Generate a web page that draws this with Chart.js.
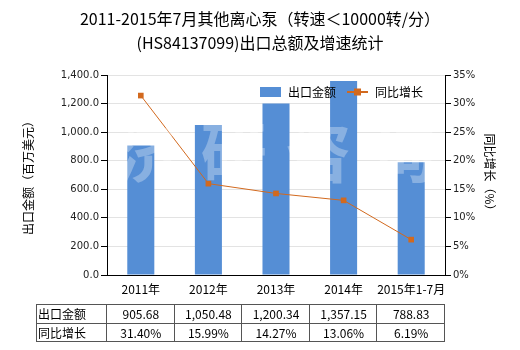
<!DOCTYPE html>
<html>
<head>
<meta charset="utf-8">
<script src="https://cdn.jsdelivr.net/npm/chart.js@4"></script>
<style>
  html, body { margin: 0; padding: 0; background: #fff; }
  #wrap { width: 520px; height: 350px; }
</style>
</head>
<body>
<div id="wrap"><canvas id="exportChart" width="520" height="350"></canvas></div>
<script>
// 出口金额及同比增长
const years = ['2011年', '2012年', '2013年', '2014年', '2015年1-7月'];
const exportValue = [905.68, 1050.48, 1200.34, 1357.15, 788.83];
const growthRate = [31.40, 15.99, 14.27, 13.06, 6.19];
const rowNames = ['出口金额', '同比增长'];
const watermark = ['济', '研', '咨', '询'];

const BAR_COLOR = '#558ed5';
const LINE_COLOR = '#d2691e';
const CJK = "'Noto Sans CJK SC', 'Noto Sans', sans-serif";
const NUM = "'DejaVu Sans', sans-serif";

function fmtValue(v) {
  return v.toLocaleString('en-US', { minimumFractionDigits: 2, maximumFractionDigits: 2 });
}

// 图例（画在绘图区内）
const legendPlugin = {
  id: 'innerLegend',
  afterDraw(chart) {
    const ctx = chart.ctx;
    ctx.save();
    ctx.fillStyle = BAR_COLOR;
    ctx.fillRect(260, 87, 21, 10);
    ctx.strokeStyle = LINE_COLOR;
    ctx.lineWidth = 2;
    ctx.beginPath();
    ctx.moveTo(347, 92);
    ctx.lineTo(368, 92);
    ctx.stroke();
    ctx.fillStyle = LINE_COLOR;
    ctx.fillRect(354, 88.5, 7, 7);
    ctx.fillStyle = '#000';
    ctx.font = '12px ' + CJK;
    ctx.textBaseline = 'middle';
    ctx.textAlign = 'left';
    ctx.fillText('出口金额', 288, 92);
    ctx.fillText('同比增长', 375, 92);
    ctx.restore();
  }
};

// 水印
const watermarkPlugin = {
  id: 'watermark',
  afterDatasetsDraw(chart) {
    const ctx = chart.ctx;
    const area = chart.chartArea;
    ctx.save();
    ctx.fillStyle = 'rgba(255,255,255,0.3)';
    ctx.font = 'bold 66px ' + CJK;
    ctx.textAlign = 'center';
    ctx.textBaseline = 'middle';
    const step = (area.right - area.left) / watermark.length;
    watermark.forEach((ch, i) => {
      ctx.fillText(ch, area.left + step * (i + 0.5), 152);
    });
    ctx.restore();
  }
};

// 数据表
const tablePlugin = {
  id: 'dataTable',
  afterDraw(chart) {
    const ctx = chart.ctx;
    const x = chart.scales.x;
    const colW = (x.right - x.left) / years.length;
    const tableLeft = 36;
    const rowTop = [304, 323];
    const rowH = 18;
    const bottom = rowTop[1] + rowH;
    const rows = [exportValue.map(fmtValue), growthRate.map(v => v.toFixed(2) + '%')];

    ctx.save();
    ctx.strokeStyle = '#555';
    ctx.lineWidth = 1;
    ctx.beginPath();
    [rowTop[0], rowTop[1], bottom].forEach(y => {
      ctx.moveTo(tableLeft, y + 0.5);
      ctx.lineTo(x.right, y + 0.5);
    });
    ctx.moveTo(tableLeft + 0.5, rowTop[0]);
    ctx.lineTo(tableLeft + 0.5, bottom);
    for (let i = 0; i <= years.length; i++) {
      const px = Math.round(x.left + colW * i) - 0.5;
      ctx.moveTo(px, rowTop[0]);
      ctx.lineTo(px, bottom);
    }
    ctx.stroke();

    ctx.fillStyle = '#000';
    ctx.font = '12px ' + CJK;
    ctx.textBaseline = 'middle';
    rows.forEach((cells, r) => {
      const cy = rowTop[r] + rowH / 2 + 1;
      ctx.textAlign = 'left';
      ctx.fillText(rowNames[r], tableLeft + 2, cy);
      ctx.textAlign = 'center';
      cells.forEach((txt, i) => {
        ctx.fillText(txt, x.getPixelForValue(i), cy);
      });
    });
    ctx.restore();
  }
};

const chart = new Chart(document.getElementById('exportChart'), {
  type: 'bar',
  data: {
    labels: years,
    datasets: [
      {
        type: 'line',
        label: '同比增长',
        data: growthRate,
        yAxisID: 'y1',
        borderColor: LINE_COLOR,
        borderWidth: 1,
        backgroundColor: LINE_COLOR,
        pointStyle: 'rect',
        pointRadius: 4,
        pointBorderWidth: 0,
        tension: 0,
        order: 1
      },
      {
        type: 'bar',
        label: '出口金额',
        data: exportValue,
        yAxisID: 'y',
        backgroundColor: BAR_COLOR,
        categoryPercentage: 1,
        barPercentage: 0.4,
        order: 2
      }
    ]
  },
  options: {
    responsive: false,
    animation: false,
    devicePixelRatio: 1,
    layout: { padding: { left: 0, right: 0, top: 0, bottom: 53 } },
    plugins: {
      legend: { display: false },
      tooltip: { enabled: false },
      title: {
        display: true,
        text: ['2011-2015年7月其他离心泵（转速＜10000转/分）', '(HS84137099)出口总额及增速统计'],
        color: '#000',
        font: { family: CJK, size: 16, weight: 'normal', lineHeight: 1.5 },
        padding: { top: 7, bottom: 20 }
      }
    },
    scales: {
      x: {
        grid: { display: false, drawTicks: false },
        border: { display: true, color: '#000', width: 1 },
        ticks: { color: '#000', padding: 7, autoSkip: false, font: { family: CJK, size: 12 }, maxRotation: 0 },
        afterFit(scale) { scale.height = 22; }
      },
      y: {
        position: 'left',
        min: 0,
        max: 1400,
        ticks: {
          stepSize: 200,
          color: '#222',
          padding: 2,
          font: { family: NUM, size: 10 },
          callback: v => v.toLocaleString('en-US', { minimumFractionDigits: 1, maximumFractionDigits: 1 })
        },
        grid: { color: '#e3e3e3', tickColor: '#000', tickLength: 6 },
        border: { color: '#000', width: 1 },
        title: {
          display: true,
          text: '出口金额（百万美元）',
          color: '#000',
          font: { family: CJK, size: 12 },
          padding: { top: 21, bottom: 0 }
        },
        afterFit(scale) { scale.width = 107; }
      },
      y1: {
        position: 'right',
        min: 0,
        max: 35,
        ticks: {
          stepSize: 5,
          color: '#222',
          padding: 2,
          font: { family: NUM, size: 10 },
          callback: v => v + '%'
        },
        grid: { drawOnChartArea: false, tickColor: '#000', tickLength: 6 },
        border: { color: '#000', width: 1 },
        title: {
          display: true,
          text: '同比增长（%）',
          color: '#000',
          font: { family: CJK, size: 12 },
          padding: { top: 23, bottom: 0 }
        },
        afterFit(scale) { scale.width = 75; }
      }
    }
  },
  plugins: [watermarkPlugin, legendPlugin, tablePlugin]
});
</script>
</body>
</html>
